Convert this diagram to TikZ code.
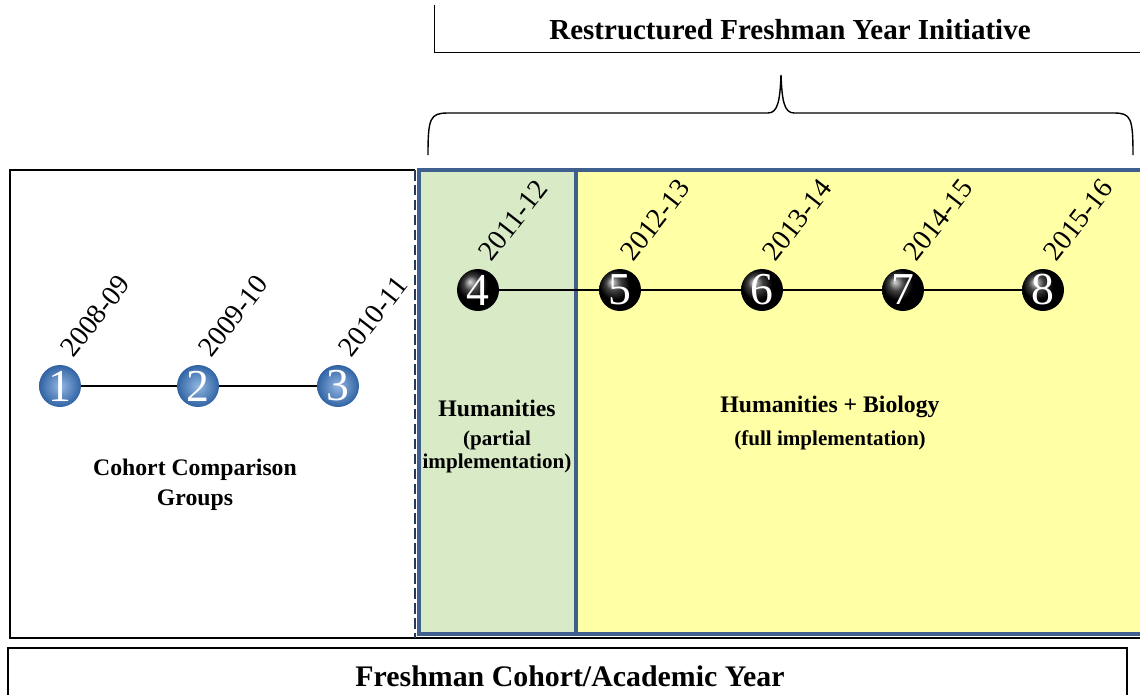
\documentclass[tikz,border=0pt]{standalone}
\usepackage{fontspec}
\setmainfont{Liberation Serif}
\usepackage{tikz}
\usetikzlibrary{positioning,shadings}
\definecolor{panelblue}{HTML}{3F5F8E}
\definecolor{partgreen}{HTML}{D9EAC7}
\definecolor{fullyellow}{HTML}{FFFFA6}
\definecolor{cohortblue}{HTML}{3C7CCC}

\begin{document}
\begin{tikzpicture}[x=0.02cm,y=-0.02cm,
    cohort/.style={circle,minimum size=0.84cm,inner sep=0pt,shading=radial,
      inner color=cohortblue!55!white,outer color=cohortblue!80!black,
      text=white,font=\fontsize{26}{26}\selectfont},
    initiative/.style={cohort,shading=ball,ball color=black},
    yearlbl/.style={anchor=south west,rotate=52,inner sep=0pt,
      font=\fontsize{16}{16}\selectfont},
    link/.style={line width=1.6pt},
    heading/.style={font=\bfseries\fontsize{16.5}{20}\selectfont},
    grouplbl/.style={align=center,font=\bfseries\fontsize{13.5}{17}\selectfont},
    sublbl/.style={align=center,font=\bfseries\fontsize{12}{13.5}\selectfont}]
  \clip (0,0) rectangle (1140,694);

  % frames
  \draw (434,5) |- (1140,52);
  \node[heading] (rfyi) at (790,30) {Restructured Freshman Year Initiative};
  \draw[line width=0.8pt] (428,155) .. controls (428,118) and (430,113) .. (448,113)
    -- (768,113) .. controls (778,113) and (780,100) .. (781,75)
    .. controls (782,100) and (784,113) .. (794,113)
    -- (1114,113) .. controls (1131,113) and (1133,118) .. (1133,155);
  \draw[line width=0.8pt] (415,170) -| (10,638) -- (1140,638);
  \draw[dash pattern=on 6pt off 2.5pt,line width=1pt,panelblue!60!black] (415,170) -- (415,638);
  \draw[panelblue,line width=1.8pt,fill=fullyellow] (576,170) rectangle (1144,634);
  \draw[panelblue,line width=1.8pt,fill=partgreen] (419,170) rectangle (576,634);
  \draw[line width=0.8pt] (8,700) |- (1127,648) -- (1127,700);
  \node[heading,font=\bfseries\fontsize{17}{20}\selectfont] (fcay) at (570,676) {Freshman Cohort/Academic Year};

  % cohorts
  \foreach \n/\x/\yr in {1/60/2008-09,2/198/2009-10,3/338/2010-11}{
    \node[cohort] (c\n) at (\x,386) {\n};
    \node[yearlbl] at ([xshift=8pt,yshift=3pt]c\n.north) {\yr};
  }
  \foreach \n/\x/\yr in {4/478/2011-12,5/620/2012-13,6/762/2013-14,7/903/2014-15,8/1043/2015-16}{
    \node[initiative] (c\n) at (\x,290) {\n};
    \node[yearlbl] at ([xshift=8pt,yshift=3pt]c\n.north) {\yr};
  }
  \draw[link] (c1) -- (c2) -- (c3);
  \draw[link] (c4) -- (c5) -- (c6) -- (c7) -- (c8);

  % groups
  \node[grouplbl] (ccg) at (195,485) {Cohort Comparison\\Groups};
  \node[grouplbl] (hum) at (497,408) {Humanities};
  \node[sublbl,below=1pt of hum] {(partial\\implementation)};
  \node[grouplbl] (humbio) at (830,407) {Humanities + Biology};
  \node[sublbl,below=0pt of humbio] {(full implementation)};
\end{tikzpicture}
\end{document}
